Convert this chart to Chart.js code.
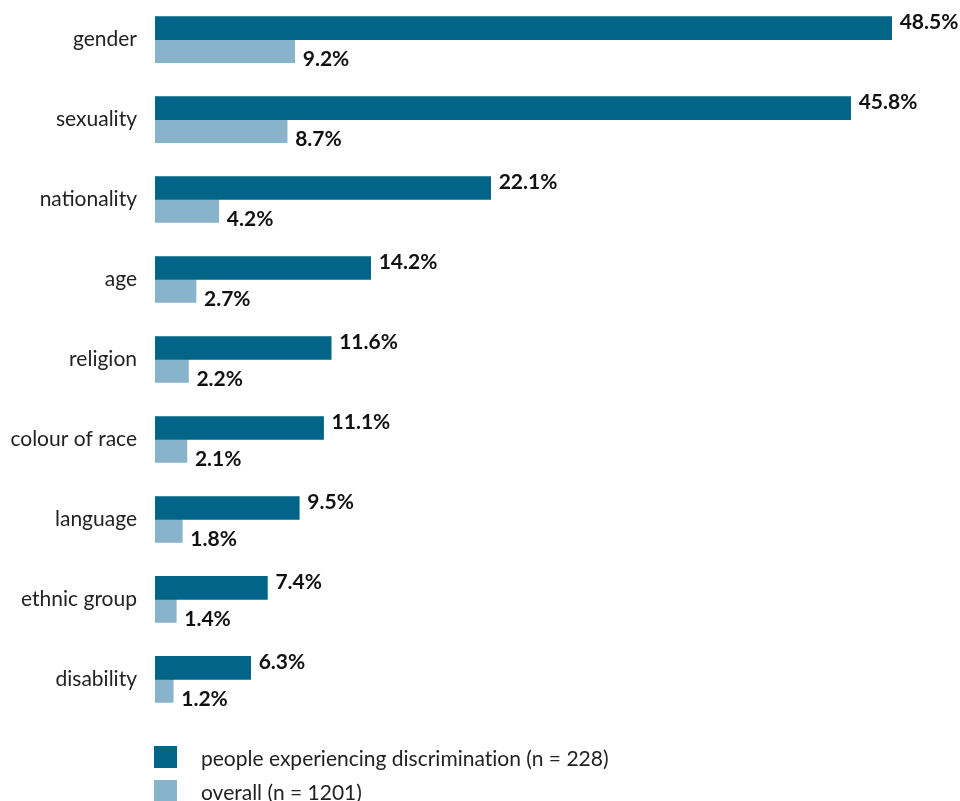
<!DOCTYPE html>
<html>
<head>
<meta charset="utf-8">
<script src="https://cdn.jsdelivr.net/npm/chart.js@4.4.1/dist/chart.umd.min.js"></script>
<style>
  html, body { margin: 0; padding: 0; background: #fff; }
  body { width: 960px; height: 801px; position: relative; overflow: hidden; font-family: Lato, sans-serif; }
  /* the category axis pads top and bottom by label height + padding, so the canvas overhangs */
  #wrap { position: absolute; left: 0; top: -31px; width: 960px; height: 781px; }
  #legend { position: absolute; left: 154px; top: 740px; }
  .item { display: flex; align-items: center; height: 34px; font-size: 21px; color: #222; font-variant-ligatures: none; }
  .box { width: 23px; height: 22px; margin-right: 24px; }
</style>
</head>
<body>
<div id="wrap"><canvas id="bars"></canvas></div>
<div id="legend"></div>
<script>
const categories = ['gender', 'sexuality', 'nationality', 'age', 'religion',
  'colour of race', 'language', 'ethnic group', 'disability'];
const discriminated = [48.5, 45.8, 22.1, 14.2, 11.6, 11.1, 9.5, 7.4, 6.3];
const overall = [9.2, 8.7, 4.2, 2.7, 2.2, 2.1, 1.8, 1.4, 1.2];
const seriesNames = ['people experiencing discrimination (n = 228)', 'overall (n = 1201)'];

const darkBlue = '#026587';
const lightBlue = '#88b4cb';

// value labels next to each bar end, dark ones lifted, light ones dropped
const valueLabels = {
    id: 'valueLabels',
    afterDatasetsDraw(chart) {
        const ctx = chart.ctx;
        ctx.save();
        ctx.font = 'bold 21px Lato, sans-serif';
        ctx.fillStyle = '#111';
        ctx.textAlign = 'left';
        ctx.textBaseline = 'middle';
        chart.data.datasets.forEach((ds, di) => {
            const meta = chart.getDatasetMeta(di);
            meta.data.forEach((bar, i) => {
                const dy = di === 0 ? -6 : 8;
                ctx.fillText(ds.data[i].toFixed(1) + '%', bar.x + 8, bar.y + dy);
            });
        });
        ctx.restore();
    }
};

const chart = new Chart(document.getElementById('bars'), {
    type: 'bar',
    data: {
        labels: categories,
        datasets: [
            { label: seriesNames[0], data: discriminated, backgroundColor: darkBlue, barThickness: 23 },
            { label: seriesNames[1], data: overall, backgroundColor: lightBlue, barThickness: 23 }
        ]
    },
    options: {
        indexAxis: 'y',
        responsive: true,
        maintainAspectRatio: false,
        animation: false,
        layout: { padding: 0 },
        scales: {
            x: {
                display: false,
                min: 0,
                max: 53
            },
            y: {
                afterFit: function(scale) { scale.width = 155; },
                grid: { display: false, drawTicks: false },
                border: { display: false },
                ticks: {
                    padding: 18,
                    color: '#222',
                    font: { family: 'Lato, sans-serif', size: 21 }
                }
            }
        },
        plugins: {
            legend: { display: false },
            tooltip: { enabled: false }
        }
    },
    plugins: [valueLabels]
});

// legend built from the datasets
const legend = document.getElementById('legend');
chart.data.datasets.forEach(ds => {
    const row = document.createElement('div');
    row.className = 'item';
    const box = document.createElement('span');
    box.className = 'box';
    box.style.background = ds.backgroundColor;
    row.appendChild(box);
    row.appendChild(document.createTextNode(ds.label));
    legend.appendChild(row);
});
</script>
</body>
</html>
